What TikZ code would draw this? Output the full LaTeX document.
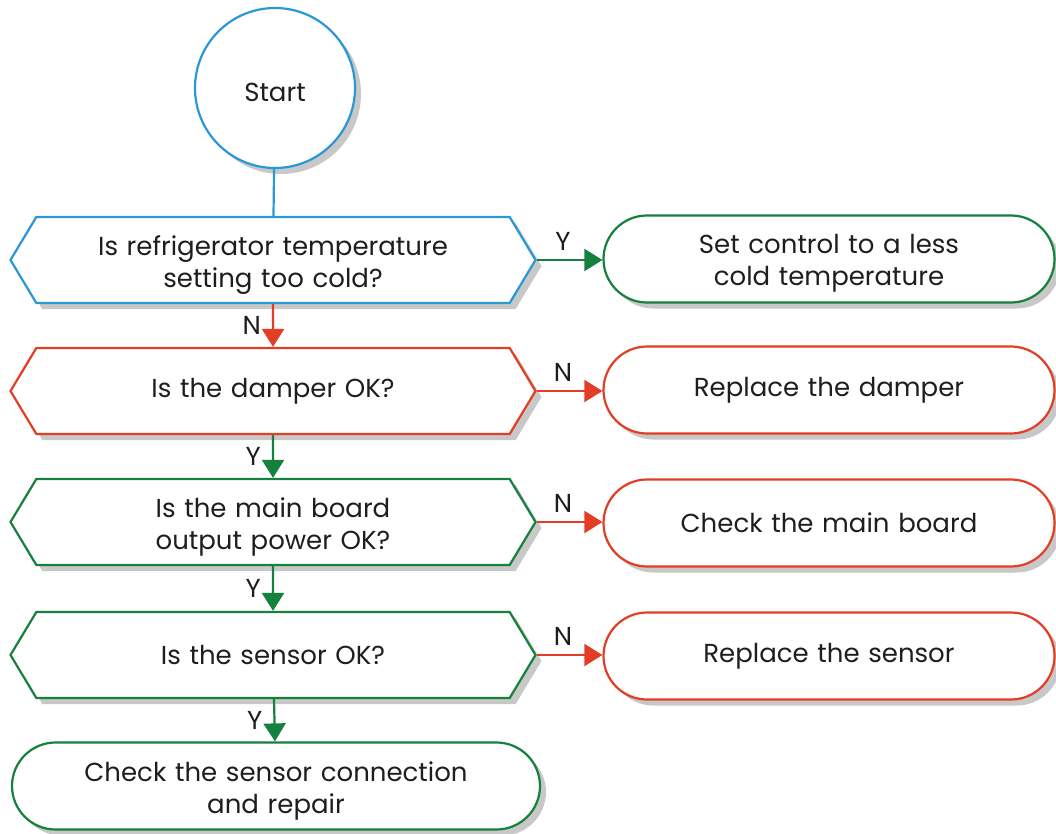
\documentclass[tikz,border=0pt]{standalone}
\usepackage{fontspec}
\setmainfont{Poppins}
\usetikzlibrary{arrows.meta,shapes.symbols,shapes.misc,shadows}
\definecolor{flowblue}{RGB}{41,152,214}
\definecolor{flowgreen}{RGB}{22,128,61}
\definecolor{flowred}{RGB}{227,61,38}
\definecolor{shadowgray}{RGB}{200,200,200}
\definecolor{ink}{RGB}{30,30,30}
\tikzset{
  x=1pt, y=-1pt,
  every node/.style={text=ink, font=\fontsize{26}{32}\selectfont},
  boxshadow/.style={drop shadow={shadow xshift=6pt, shadow yshift=-6pt, fill=shadowgray, opacity=1}},
  startnode/.style={circle, draw=flowblue, line width=2.2pt, fill=white, minimum size=160pt, inner sep=0pt,
    text height=28pt, text depth=0pt, boxshadow},
  question/.style={signal, signal to=west and east, signal pointer angle=118, draw=#1, line width=2.2pt, fill=white,
    minimum width=525pt, minimum height=86pt, inner sep=0pt, text width=440pt, align=center, boxshadow},
  action/.style={rounded rectangle, draw=#1, line width=2.2pt, fill=white,
    minimum width=451pt, minimum height=87pt, inner sep=0pt, text width=400pt, align=center, boxshadow},
  twolines/.style={text depth=29.5pt},
  flow/.style={draw=#1, line width=2.2pt, -{Triangle[length=18pt,width=22pt]}},
  vlbl/.style={text=ink, font=\fontsize{26}{28}\selectfont, inner sep=0pt, left=11pt},
  hlbl/.style={text=ink, font=\fontsize{26}{28}\selectfont, inner sep=0pt, above=8pt, pos=0.4},
}
\begin{document}
\begin{tikzpicture}
\useasboundingbox (0,0) rectangle (1056,834);

% main column
\node[startnode] (start) at (275,88) {Start};
\node[question=flowblue, twolines] (q1) at (273,260) {Is refrigerator temperature\\setting too cold?};
\node[question=flowred] (q2) at (273,391) {Is the damper OK?};
\node[question=flowgreen, twolines] (q3) at (273,522) {Is the main board\\output power OK?};
\node[question=flowgreen] (q4) at (273,655) {Is the sensor OK?};
\node[action=flowgreen, twolines, minimum width=528pt] (fin) at (276,786) {Check the sensor connection\\and repair};

% action column
\node[action=flowgreen, twolines] (a1) at (829,259) {Set control to a less\\cold temperature};
\node[action=flowred] (a2) at (829,390) {Replace the damper};
\node[action=flowred] (a3) at (829,523) {Check the main board};
\node[action=flowred] (a4) at (829,656) {Replace the sensor};

% connectors down the main column
\draw[flowblue, line width=2.2pt] (start) -- (q1);
\draw[flow=flowred] (q1) -- node[vlbl] {N} (q2);
\draw[flow=flowgreen] (q2) -- node[vlbl] {Y} (q3);
\draw[flow=flowgreen] (q3) -- node[vlbl] {Y} (q4);
\draw[flow=flowgreen] (q4) -- node[vlbl] {Y} (fin);

% connectors to the actions
\draw[flow=flowgreen] (q1.east) -- node[hlbl] {Y} (a1.west |- q1.east);
\draw[flow=flowred] (q2.east) -- node[hlbl] {N} (a2.west |- q2.east);
\draw[flow=flowred] (q3.east) -- node[hlbl] {N} (a3.west |- q3.east);
\draw[flow=flowred] (q4.east) -- node[hlbl] {N} (a4.west |- q4.east);
\end{tikzpicture}
\end{document}
